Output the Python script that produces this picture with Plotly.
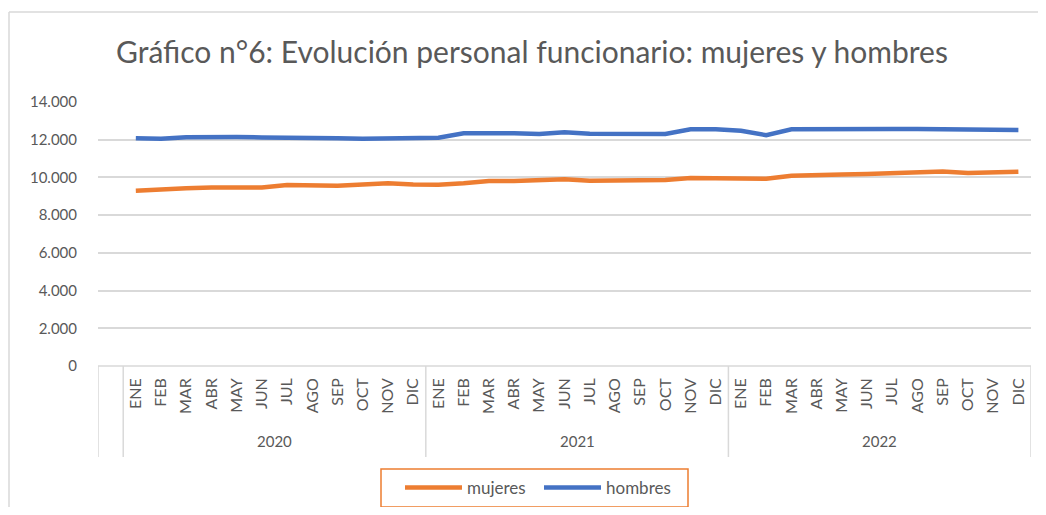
import plotly.graph_objects as go

months = ["ENE", "FEB", "MAR", "ABR", "MAY", "JUN", "JUL", "AGO", "SEP", "OCT", "NOV", "DIC"]
years = ["2020", "2021", "2022"]

mujeres = [9300, 9330, 9420, 9470, 9450, 9470, 9600, 9560, 9560, 9620, 9690, 9620,
           9610, 9690, 9810, 9810, 9830, 9900, 9830, 9850, 9810, 9860, 9970, 9970,
           9930, 9930, 10090, 10150, 10160, 10180, 10230, 10270, 10320, 10240, 10270, 10300]
hombres = [12080, 12050, 12130, 12160, 12140, 12120, 12120, 12100, 12080, 12050, 12080, 12090,
           12110, 12340, 12360, 12340, 12300, 12390, 12320, 12320, 12300, 12300, 12550, 12550,
           12470, 12240, 12550, 12570, 12570, 12570, 12570, 12570, 12550, 12530, 12510, 12520]

# category positions: position 0 is an empty leading category (as in the source chart)
x_pos = list(range(1, len(months) * len(years) + 1))
tick_text = months * len(years)

FONT = "Lato, 'Open Sans', sans-serif"
GRAY = "#595959"
LINE = "#d9d9d9"
ORANGE = "#ED7D31"
BLUE = "#4472C4"

fig = go.Figure()
fig.add_trace(go.Scatter(x=x_pos, y=mujeres, name="mujeres", mode="lines",
                         line=dict(color=ORANGE, width=4.5)))
fig.add_trace(go.Scatter(x=x_pos, y=hombres, name="hombres", mode="lines",
                         line=dict(color=BLUE, width=4.5)))

OFF = 8  # page body margin
W, H = 1046 - 2 * OFF, 515 - 2 * OFF
L, T = 98 - OFF, 102 - OFF
R = W - (1031 - OFF)
B = H - (366 - OFF)
pw, ph = W - L - R, H - T - B

def py(p):  # page pixel y -> paper y
    return (H - B - (p - OFF)) / ph

def px(p):  # page pixel x -> paper x
    return ((p - OFF) - L) / pw

shapes = []
# outer chart border (top + left)
shapes.append(dict(type="line", xref="paper", yref="paper", x0=px(9), x1=px(1060), y0=py(12), y1=py(12),
                   line=dict(color=LINE, width=1.5)))
shapes.append(dict(type="line", xref="paper", yref="paper", x0=px(9), x1=px(9), y0=py(12), y1=py(530),
                   line=dict(color=LINE, width=1.5)))
# category group separators
for xv in [-0.5, 0.5, 12.5, 24.5, 36.5]:
    shapes.append(dict(type="line", xref="x", yref="paper", x0=xv, x1=xv, y0=0, y1=py(457),
                       line=dict(color=LINE, width=1.5)))
# axis line
shapes.append(dict(type="line", xref="paper", yref="paper", x0=0, x1=1, y0=0, y1=0,
                   line=dict(color=LINE, width=1.5)))
# legend frame
shapes.append(dict(type="rect", xref="paper", yref="paper", x0=px(381), x1=px(688), y0=py(469), y1=py(507),
                   line=dict(color=ORANGE, width=1.5), fillcolor="rgba(0,0,0,0)"))

annotations = []
for i, yr in enumerate(years):
    annotations.append(dict(x=i * 12 + 6.5, xref="x", y=py(441), yref="paper", text=yr,
                            showarrow=False, font=dict(family=FONT, size=15, color=GRAY),
                            xanchor="center", yanchor="middle"))

fig.update_layout(
    width=W, height=H,
    margin=dict(l=L, r=R, t=T, b=B, autoexpand=False),
    paper_bgcolor="white", plot_bgcolor="white",
    separators=",.",
    title=dict(text="Gráfico n°6: Evolución personal funcionario: mujeres y hombres",
               x=(532 - OFF) / W, xref="container", xanchor="center",
               y=1 - (52 - OFF) / H, yref="container", yanchor="middle",
               font=dict(family=FONT, size=30, color=GRAY)),
    xaxis=dict(range=[-0.5, 36.5], tickvals=x_pos, ticktext=tick_text, tickangle=-90,
               showgrid=False, zeroline=False, showline=False, ticks="",
               ticklabelstandoff=8, automargin=False,
               tickfont=dict(family=FONT, size=16, color=GRAY)),
    yaxis=dict(range=[0, 14000], tickvals=list(range(0, 14001, 2000)), tickformat=",d",
               showgrid=True, gridcolor=LINE, gridwidth=1.5, zeroline=False, showline=False,
               ticks="", ticklabelstandoff=20, automargin=False,
               tickfont=dict(family=FONT, size=15, color=GRAY)),
    legend=dict(orientation="h", x=px(400), xanchor="left",
                y=py(470), yanchor="top",
                borderwidth=0, bgcolor="rgba(0,0,0,0)",
                font=dict(family=FONT, size=17, color=GRAY),
                itemwidth=57, entrywidth=67),
    shapes=shapes,
    annotations=annotations,
    showlegend=True,
)

fig.write_html("out.html")
